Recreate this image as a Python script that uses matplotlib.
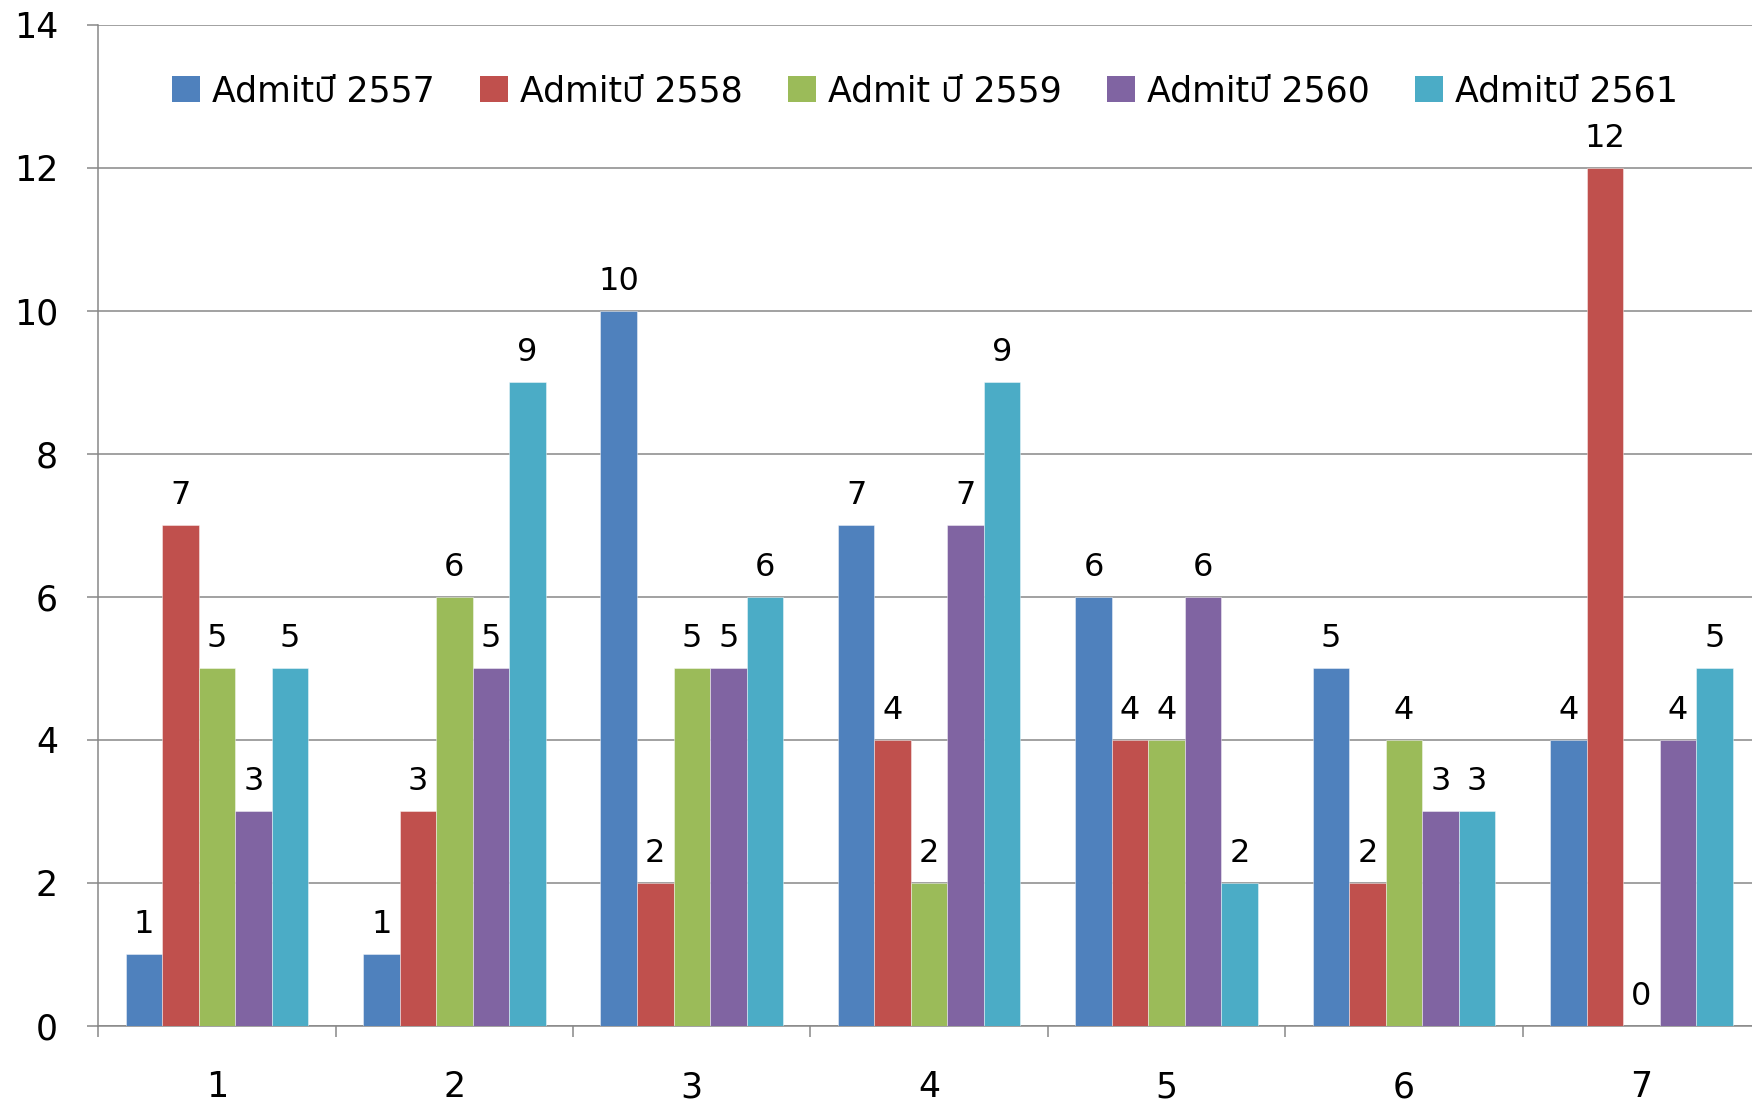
import matplotlib
matplotlib.use("Agg")
import matplotlib.pyplot as plt
from matplotlib import font_manager
from matplotlib.patches import Patch
import numpy as np

# ข้อมูลจำนวนนักศึกษา admit แต่ละปี
categories = ["1", "2", "3", "4", "5", "6", "7"]
series_names = ["Admitปี 2557", "Admitปี 2558", "Admit ปี 2559", "Admitปี 2560", "Admitปี 2561"]
y2557 = [1, 1, 10, 7, 6, 5, 4]
y2558 = [7, 3, 2, 4, 4, 2, 12]
y2559 = [5, 6, 5, 2, 4, 4, 0]
y2560 = [3, 5, 5, 7, 6, 3, 4]
y2561 = [5, 9, 6, 9, 2, 3, 5]
colors = ["#4F81BD", "#C0504D", "#9BBB59", "#8064A2", "#4BACC6"]
yticks = [0, 2, 4, 6, 8, 10, 12, 14]

# หา font ที่มีอักษรไทย
names = sorted({f.name for f in font_manager.fontManager.ttflist})
thai = [n for n in names if "thai" in n.lower() or "tahoma" in n.lower() or "sarabun" in n.lower()]
plt.rcParams["font.family"] = ["DejaVu Sans"] + thai

grid_col = "#878787"
fig = plt.figure(figsize=(17.52, 11.04), dpi=100)
ax = fig.add_axes([98.3 / 1752, 78.3 / 1104, 1661.7 / 1752, 1001.1 / 1104])

x = np.arange(1, len(categories) + 1)
w = 1 / 6.5
data = [y2557, y2558, y2559, y2560, y2561]
for i, vals in enumerate(data):
    pos = x + (i - 2) * w
    ax.bar(pos, vals, width=w, color=colors[i], edgecolor=(1, 1, 1, 0.5), linewidth=0.6, zorder=3)
    for px, v in zip(pos, vals):
        ax.annotate(str(v), (px, v), xytext=(0, 15), textcoords="offset points",
                    ha="center", va="baseline", fontsize=23, color="black", zorder=4)

ax.set_xlim(0.5, 7.5)
ax.set_ylim(0, 14)
ax.set_yticks(yticks)
ax.set_yticklabels([str(t) for t in yticks], fontsize=25)
ax.yaxis.grid(True, color=grid_col, linewidth=1.1, zorder=0)
ax.tick_params(axis="y", length=8, width=1.1, color=grid_col, pad=21)

ax.set_xticks(np.arange(0.5, 8.0, 1.0))
ax.set_xticklabels([])
ax.tick_params(axis="x", which="major", length=8, width=1.1, color=grid_col)
ax.set_xticks(x, minor=True)
ax.set_xticklabels(categories, minor=True, fontsize=25)
ax.tick_params(axis="x", which="minor", length=0, pad=32)

for s in ["top", "right"]:
    ax.spines[s].set_visible(False)
for s in ["left", "bottom"]:
    ax.spines[s].set_color(grid_col)
    ax.spines[s].set_linewidth(1.1)

handles = [Patch(facecolor=c, edgecolor="none") for c in colors]
leg = ax.legend(handles, series_names, loc="center", bbox_to_anchor=(925 / 1752, 1 - 91 / 1104),
                bbox_transform=fig.transFigure, ncol=5, frameon=False, fontsize=25,
                handlelength=0.8, handleheight=0.8, handletextpad=0.35, columnspacing=1.3)

fig.savefig("out.png", dpi=100)
